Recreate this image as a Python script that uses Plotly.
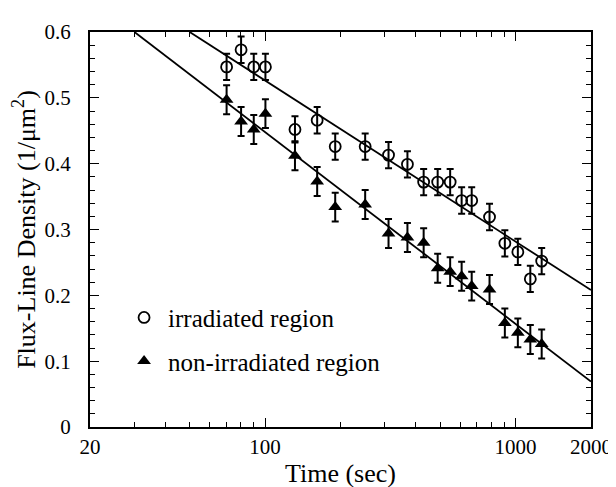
import plotly.graph_objects as go

# Data
time_irr = [70.2, 80.2, 90.1, 100.3, 131.6, 161.4, 190.5, 250.9, 311, 370, 429.5,
            488.6, 548, 609, 668, 787, 906, 1021, 1145, 1271]
dens_irr = [0.547, 0.573, 0.547, 0.547, 0.452, 0.466, 0.426, 0.426, 0.413, 0.399,
            0.372, 0.372, 0.372, 0.344, 0.344, 0.319, 0.279, 0.266, 0.225, 0.252]
err_irr = [0.02] * len(time_irr)

time_non = [70.2, 80.2, 90.1, 100.3, 131.6, 161.4, 190.5, 250.9, 311, 370, 429.5,
            488.6, 548, 609, 668, 787, 906, 1021, 1145, 1271]
dens_non = [0.497, 0.464, 0.452, 0.476, 0.412, 0.373, 0.334, 0.338, 0.294, 0.288,
            0.280, 0.241, 0.236, 0.229, 0.214, 0.209, 0.158, 0.143, 0.133, 0.126]
err_non = [0.022] * len(time_non)

# Fit lines (end points)
fit_irr_x = [50, 2000]
fit_irr_y = [0.6, 0.208]
fit_non_x = [30.1, 2000]
fit_non_y = [0.6, 0.069]

x_tickvals = [20, 100, 1000, 2000]
x_ticktext = ["20", "100", "1000", "2000"]
x_minor = [30, 40, 50, 60, 70, 80, 90, 200, 300, 400, 500, 600, 700, 800, 900]

FONT = "Liberation Serif, Times New Roman, serif"

fig = go.Figure()

fig.add_trace(go.Scatter(x=fit_irr_x, y=fit_irr_y, mode="lines",
                         line=dict(color="black", width=1.8), showlegend=False,
                         hoverinfo="skip"))
fig.add_trace(go.Scatter(x=fit_non_x, y=fit_non_y, mode="lines",
                         line=dict(color="black", width=1.8), showlegend=False,
                         hoverinfo="skip"))

fig.add_trace(go.Scatter(
    x=time_irr, y=dens_irr, mode="markers", name="irradiated region",
    legendgroup="a",
    marker=dict(symbol="circle-open", size=11, color="black", line=dict(width=1.8)),
    error_y=dict(type="data", array=err_irr, color="black", thickness=2, width=3.5),
))
fig.add_trace(go.Scatter(
    x=time_non, y=dens_non, mode="markers", name="non-irradiated region",
    legendgroup="b",
    marker=dict(symbol="triangle-up", size=12, color="black"),
    error_y=dict(type="data", array=err_non, color="black", thickness=2, width=3.5),
))

fig.update_layout(
    width=616, height=487,
    margin=dict(l=81, r=21, t=16, b=63),
    paper_bgcolor="white", plot_bgcolor="white",
    font=dict(family=FONT, color="black", size=21),
    showlegend=True,
    legend=dict(x=0.06, y=0.335, xanchor="left", yanchor="top",
                bgcolor="rgba(0,0,0,0)", font=dict(size=25, family=FONT),
                traceorder="grouped", tracegroupgap=8, itemwidth=38),
)

fig.update_xaxes(
    type="log", range=[1.30103, 3.30103],
    tickmode="array", tickvals=x_tickvals, ticktext=x_ticktext,
    ticks="inside", ticklen=9, tickwidth=1.3, tickcolor="black",
    minor=dict(tickmode="array", tickvals=x_minor, ticks="inside", ticklen=5,
               tickwidth=1.2, tickcolor="black", showgrid=False),
    showline=True, linecolor="black", linewidth=2, mirror="ticks",
    showgrid=False, zeroline=False,
    tickfont=dict(size=21, family=FONT),
    title=dict(text="Time (sec)", font=dict(size=26, family=FONT), standoff=6),
)
fig.update_yaxes(
    range=[0, 0.6], tickmode="array", tickvals=[0, 0.1, 0.2, 0.3, 0.4, 0.5, 0.6],
    ticktext=["0", "0.1", "0.2", "0.3", "0.4", "0.5", "0.6"],
    ticks="inside", ticklen=9, tickwidth=1.3, tickcolor="black",
    minor=dict(dtick=0.02, ticks="inside", ticklen=5, tickwidth=1.2,
               tickcolor="black", showgrid=False),
    showline=True, linecolor="black", linewidth=2, mirror="ticks",
    showgrid=False, zeroline=False,
    tickfont=dict(size=21, family=FONT),
    ticklabelstandoff=13,
    title=dict(text="Flux-Line Density (1/μm<sup>2</sup>)",
               font=dict(size=26, family=FONT), standoff=6),
)

fig.write_html("out.html")
